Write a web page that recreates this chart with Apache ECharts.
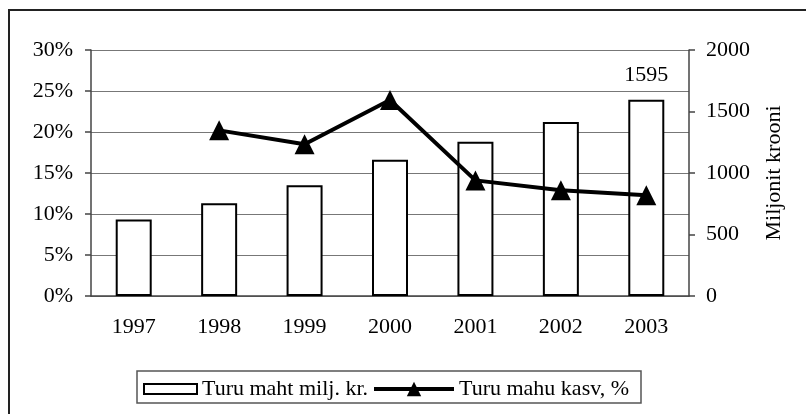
<!DOCTYPE html>
<html>
<head>
<meta charset="utf-8">
<script src="https://cdn.jsdelivr.net/npm/echarts@6/dist/echarts.min.js"></script>
<style>
html, body { margin: 0; padding: 0; background: #fff; }
#container { width: 806px; height: 414px; }
</style>
</head>
<body>
<div id="container"></div>
<script>
var years = ['1997', '1998', '1999', '2000', '2001', '2002', '2003'];
// turu maht, milj. kr (parem telg)
var marketSize = [622, 754, 900, 1108, 1254, 1415, 1595];
// turu mahu kasv, % (vasak telg)
var marketGrowth = ['-', 20.2, 18.5, 23.9, 14.1, 12.9, 12.3];
var labelIndex = 6;
var seriesNames = ['Turu maht milj. kr.', 'Turu mahu kasv, %'];

var dom = document.getElementById('container');
var myChart = echarts.init(dom);
var font = 'Liberation Serif';
var legendText = { fontFamily: font, fontSize: 22, color: '#000' };

var option = {
    backgroundColor: '#fff',
    animation: false,
    textStyle: { fontFamily: font, color: '#000' },
    graphic: [{
        // välimine raam (parem ja alumine serv jäävad pildist välja)
        type: 'rect',
        shape: { x: 9, y: 10, width: 830, height: 430 },
        style: { fill: 'none', stroke: '#222', lineWidth: 2 }
    }, {
        // legendi raam
        type: 'rect',
        shape: { x: 137, y: 371, width: 504, height: 32 },
        style: { fill: 'none', stroke: '#555', lineWidth: 1.5 }
    }],
    grid: { left: 91, right: 117, top: 50, bottom: 118 },
    legend: [{
        left: 139,
        top: 374,
        padding: 4,
        itemWidth: 53,
        itemHeight: 10,
        icon: 'rect',
        itemStyle: { borderColor: '#000', borderWidth: 2 },
        textStyle: legendText,
        data: [seriesNames[0]]
    }, {
        left: 368,
        top: 374,
        padding: 4,
        itemWidth: 80,
        itemHeight: 18,
        lineStyle: { width: 4 },
        textStyle: legendText,
        data: [seriesNames[1]]
    }],
    xAxis: {
        type: 'category',
        data: years,
        boundaryGap: true,
        axisLine: { lineStyle: { color: '#444', width: 1.5 } },
        axisTick: { length: 5, lineStyle: { color: '#444', width: 1.5 } },
        axisLabel: { fontFamily: font, fontSize: 22, color: '#000', margin: 20 }
    },
    yAxis: [{
        type: 'value',
        min: 0,
        max: 30,
        interval: 5,
        axisLine: { show: true, lineStyle: { color: '#444', width: 1.5 } },
        axisTick: { show: true, length: 6, lineStyle: { color: '#444', width: 1.5 } },
        axisLabel: { formatter: '{value}%', fontFamily: font, fontSize: 22, color: '#000', margin: 18 },
        splitLine: { lineStyle: { color: '#777', width: 1.2 } }
    }, {
        type: 'value',
        min: 0,
        max: 2000,
        interval: 500,
        position: 'right',
        name: 'Miljonit krooni',
        nameLocation: 'middle',
        nameRotate: 90,
        nameGap: 74,
        nameTextStyle: { fontFamily: font, fontSize: 22, color: '#000' },
        axisLine: { show: true, lineStyle: { color: '#444', width: 1.5 } },
        axisTick: { show: true, length: 6, lineStyle: { color: '#444', width: 1.5 } },
        axisLabel: {
            fontFamily: font, fontSize: 22, color: '#000', margin: 17,
            formatter: function (v) { return String(v); }
        },
        splitLine: { show: false }
    }],
    series: [{
        name: seriesNames[0],
        type: 'bar',
        yAxisIndex: 1,
        barWidth: 36,
        itemStyle: { color: '#fff', borderColor: '#000', borderWidth: 2 },
        label: {
            show: true,
            position: 'top',
            distance: 14,
            fontFamily: font,
            fontSize: 22,
            color: '#000',
            formatter: function (p) { return p.dataIndex === labelIndex ? String(p.value) : ''; }
        },
        data: marketSize
    }, {
        name: seriesNames[1],
        type: 'line',
        yAxisIndex: 0,
        symbol: 'triangle',
        symbolSize: 20,
        lineStyle: { color: '#000', width: 4 },
        itemStyle: { color: '#000' },
        data: marketGrowth
    }]
};

myChart.setOption(option);
</script>
</body>
</html>
